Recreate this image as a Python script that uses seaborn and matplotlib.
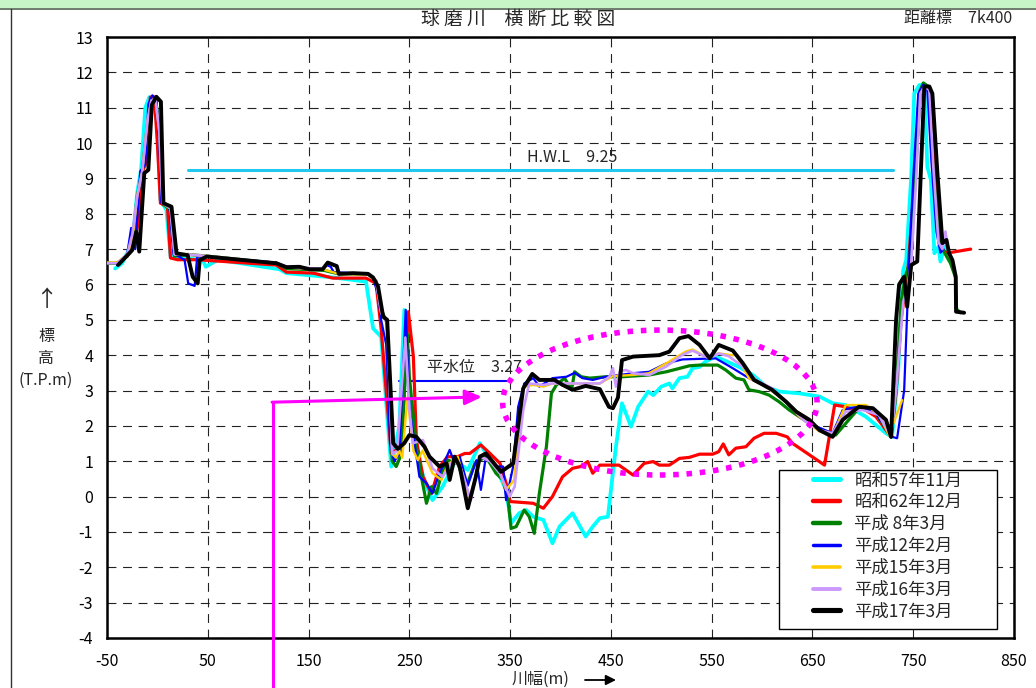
import numpy as np
import pandas as pd
import seaborn as sns
import matplotlib
matplotlib.use("Agg")
import matplotlib.pyplot as plt
from matplotlib.lines import Line2D
from matplotlib.patches import Ellipse, Rectangle
from matplotlib.ticker import MultipleLocator, FixedLocator

# ---------------- survey data: distance (m) / elevation (T.P.m) ----------------
s57_x = [-42, -35, -28, -24, -20, -16, -12, -8, -4, 0, 3, 9, 13, 20, 45, 48, 60, 121, 128, 174, 207, 214,
         222, 232, 240, 245, 250, 257, 267, 273, 283, 296, 308, 320, 330, 340, 346, 351, 359, 366, 373,
         383, 392, 399, 412, 425, 432, 439, 447, 455, 461, 470, 477, 487, 492, 500, 508, 511, 518, 526,
         531, 538, 544, 554, 577, 591, 604, 617, 637, 657, 670, 683, 703, 723, 729, 735, 740, 743, 748,
         751, 756, 761, 764, 767.5, 771, 775, 777, 781, 783]
s57_y = [6.45, 6.6, 7.0, 7.4, 8.6, 9.3, 11.0, 11.3, 11.25, 10.5, 8.4, 8.1, 6.8, 6.75, 6.7, 6.5, 6.7, 6.43,
         6.32, 6.2, 6.08, 4.76, 4.52, 0.85, 1.98, 5.28, 2.73, 1.22, 0.28, -0.10, 0.28, 1.03, 0.75, 1.51,
         1.03, 0.56, 0.19, -0.75, -0.47, -0.38, -0.57, -0.66, -1.32, -0.85, -0.47, -1.13, -0.85, -0.61,
         -0.57, 1.41, 2.64, 1.98, 2.54, 2.97, 2.87, 3.11, 3.20, 3.06, 3.35, 3.39, 3.63, 3.67, 3.82, 3.96,
         3.67, 3.44, 3.11, 2.97, 2.92, 2.83, 2.64, 2.59, 2.26, 1.79, 1.69, 3.5, 6.4, 6.69, 9.05, 11.4,
         11.64, 11.64, 9.33, 8.96, 6.88, 7.07, 6.65, 7.07, 6.9]

s62_x = [-40, -30, -25, -20, -15, -10, -7, -3, 0, 3, 10, 13, 20, 40, 118, 128, 155, 174, 207, 217, 222,
         232, 242, 249, 254, 257, 263.5, 272, 280, 288, 298, 305, 310, 321, 330, 340, 346, 350, 373, 383,
         392, 402, 412, 420, 427, 432, 439, 452, 458, 472, 483, 492, 498, 508, 518, 528, 538, 551, 557,
         561.5, 567, 574, 584, 592, 602, 614, 625, 630, 662, 672, 683, 690, 700, 713, 728, 733, 738, 745,
         752, 757, 763, 768, 773, 778, 783, 786, 807]
s62_y = [6.6, 6.8, 7.0, 7.6, 9.2, 9.5, 11.3, 11.3, 10.0, 8.3, 8.2, 6.75, 6.7, 6.7, 6.55, 6.35, 6.32, 6.18,
         6.18, 6.03, 4.76, 1.22, 1.41, 5.23, 3.96, 1.60, 0.56, 0.09, 0.85, 1.13, 1.13, 1.22, 1.22, 1.46,
         1.22, 0.94, 0.38, -0.14, -0.19, -0.33, 0.0, 0.56, 0.80, 0.85, 0.99, 0.66, 0.89, 0.89, 0.89, 0.61,
         0.94, 0.99, 0.89, 0.89, 1.08, 1.11, 1.20, 1.20, 1.27, 1.49, 1.18, 1.37, 1.41, 1.65, 1.79, 1.79,
         1.69, 1.51, 0.89, 2.59, 2.54, 2.45, 2.50, 2.26, 1.69, 3.0, 5.0, 6.5, 9.2, 11.5, 11.6, 11.3, 9.0,
         7.0, 6.9, 6.9, 7.0]

h08_x = [-50, -40, -30, -25, -20, -15, -10, -6, -2, 2, 5, 13, 17, 30, 50, 118, 128, 165, 180, 209, 217,
         222, 228, 233, 237, 242, 248, 250, 257, 262, 267, 272, 277, 282, 288, 298, 306.5, 315, 326, 336,
         343, 348, 351, 356, 364, 369, 374, 379, 386, 391, 396, 404, 411, 414, 420.5, 429, 445, 462, 472,
         488, 505, 528, 538, 556, 564, 574, 582, 587, 597, 607, 617, 627, 637, 647, 660, 673, 683, 696,
         713, 728, 733, 738, 742, 746, 752, 757, 760, 765, 770, 775, 779, 783, 787, 792, 793, 797]
h08_y = [6.6, 6.6, 6.8, 7.1, 8.5, 9.2, 10.5, 11.2, 11.25, 10.5, 8.3, 8.1, 6.8, 6.85, 6.8, 6.6, 6.45, 6.4,
         6.3, 6.3, 6.1, 5.3, 4.9, 1.0, 0.85, 1.2, 4.6, 3.39, 1.41, 0.56, -0.19, 0.28, 0.09, 0.66, 1.03,
         0.94, 0.28, 0.94, 1.13, 0.66, 0.47, -0.10, -0.90, -0.85, -0.38, -0.57, -1.04, 0.09, 1.41, 2.92,
         3.16, 3.35, 3.02, 3.53, 3.39, 3.35, 3.39, 3.39, 3.41, 3.44, 3.53, 3.70, 3.72, 3.72, 3.58, 3.35,
         3.30, 3.02, 2.97, 2.87, 2.68, 2.45, 2.26, 2.07, 1.88, 1.74, 2.07, 2.50, 2.36, 1.69, 3.0, 5.5, 6.2,
         6.6, 9.0, 11.5, 11.7, 11.6, 9.2, 7.5, 7.0, 6.8, 6.6, 6.2, 5.3, 5.2]

h12_x = [-40, -30, -26, -22, -17, -12, -9, -5, -1, 2, 4, 12, 16, 19, 27, 30.6, 37, 39.5, 50, 118, 128,
         151, 164, 168, 172, 175, 194, 209, 214, 219, 222, 227, 231, 235, 240, 246.4, 250, 260, 267, 273,
         280, 290, 295, 300, 308, 316.5, 321, 326, 336, 343, 346, 353, 358, 364, 373, 379, 392, 406, 414,
         422, 432, 445, 472, 488, 505, 521, 554, 571, 587, 604, 620, 637, 650, 670, 680, 696, 713, 728,
         734, 741, 746, 750, 755, 760, 764, 768, 773, 777, 780]
h12_y = [6.55, 6.85, 7.6, 7.0, 9.2, 9.4, 11.1, 11.35, 11.25, 10.0, 8.3, 8.2, 6.85, 6.83, 6.69, 6.03, 5.96,
         6.79, 6.78, 6.62, 6.5, 6.43, 6.43, 6.55, 6.5, 6.35, 6.32, 6.3, 6.2, 5.7, 5.0, 4.3, 1.5, 1.0, 1.2,
         5.28, 2.54, 0.56, 0.38, 0.09, 0.66, 1.32, 0.94, 1.13, 0.31, 1.03, 0.19, 1.13, 0.85, 0.85, -0.10,
         0.85, 2.54, 3.20, 3.35, 3.11, 3.35, 3.39, 3.50, 3.35, 3.30, 3.39, 3.49, 3.53, 3.77, 3.88, 3.91,
         3.63, 3.35, 3.11, 2.78, 2.26, 2.03, 1.79, 2.45, 2.56, 2.36, 1.70, 1.65, 3.0, 6.69, 9.0, 11.4,
         11.65, 11.5, 9.5, 7.5, 6.9, 7.0]

h15_x = [-50, -40, -30, -25, -20, -15, -10, -6, -2, 2, 5, 13, 17, 30, 50, 118, 128, 165, 180, 209, 217,
         222, 228, 233, 237, 240, 243, 248, 250, 254, 258.5, 263, 273, 282, 288, 298, 310, 320, 330, 340,
         346, 354, 363, 373, 383, 392, 415, 439, 452, 472, 488, 505, 524, 531, 544, 557, 570, 574, 587,
         604, 624, 637, 657, 670, 683, 703, 716, 726, 739]
h15_y = [6.62, 6.62, 6.85, 7.2, 8.5, 9.2, 10.6, 11.2, 11.25, 10.3, 8.3, 8.15, 6.85, 6.85, 6.8, 6.6, 6.48,
         6.42, 6.3, 6.28, 6.1, 5.2, 4.9, 1.2, 1.1, 1.3, 1.1, 2.8, 2.36, 1.3, 1.03, 1.3, 0.66, 0.47, 0.89,
         1.13, -0.10, 1.13, 1.03, 0.66, 0.19, 0.47, 3.11, 3.16, 3.11, 3.20, 3.20, 3.20, 3.41, 3.44, 3.49,
         3.77, 4.10, 4.16, 3.96, 4.05, 4.0, 4.01, 3.35, 3.11, 2.68, 2.26, 1.84, 1.74, 2.59, 2.59, 2.31,
         1.74, 2.73]

h16_x = [-50, -40, -30, -25, -20, -15, -10, -6, -2, 2, 5, 13, 17, 30, 50, 118, 128, 165, 169, 178, 180,
         209, 217, 222, 228, 233, 238, 246, 250, 253.6, 263.5, 273, 283, 293, 300, 311, 320, 330, 340,
         349.5, 354.5, 363, 369, 383, 392, 439, 448.5, 452, 455, 459, 465, 472, 488, 505, 521, 531, 547.5,
         557, 567, 581, 594, 610, 627, 643, 657, 670, 683, 700, 716, 728, 733, 740, 744, 748, 753, 757,
         761, 766, 770, 775, 779, 782, 785]
h16_y = [6.6, 6.6, 6.85, 7.4, 8.5, 9.2, 10.6, 11.2, 11.25, 10.3, 8.3, 8.15, 6.85, 6.85, 6.8, 6.6, 6.48,
         6.45, 6.6, 6.52, 6.32, 6.3, 6.1, 5.2, 4.9, 1.2, 1.3, 4.5, 2.5, 1.51, 1.6, 0.80, 0.56, 1.0, 0.9,
         -0.10, 1.13, 1.0, 0.66, 0.0, 0.28, 2.45, 3.2, 3.16, 3.2, 3.2, 3.39, 3.63, 3.11, 3.55, 3.58, 3.49,
         3.44, 3.68, 4.01, 4.13, 3.91, 4.05, 3.97, 3.67, 3.30, 3.06, 2.59, 2.12, 1.88, 1.79, 2.40, 2.45,
         2.31, 1.70, 3.0, 5.5, 5.9, 6.6, 9.0, 11.4, 11.6, 11.5, 9.3, 7.2, 7.0, 7.5, 6.9]

h17_x = [-39, -25, -21, -18, -13, -9, -5.5, -1, 3.5, 6, 14, 19, 30, 35, 40, 42, 49, 118, 128, 141, 151,
         164, 169, 178, 180, 194, 209, 214, 219, 224, 228, 234, 238.5, 245, 250, 257, 265, 270, 280, 287,
         290, 295, 300, 308, 316, 320, 326, 341, 353, 363, 372, 379, 394, 402, 412, 425, 439, 448, 452,
         457, 461, 472, 498, 508, 518, 527, 538, 548, 557, 571, 581, 592, 610, 624, 634, 647, 657, 670,
         680, 696, 710, 723, 728, 733, 736, 741, 744, 748, 754, 761, 766, 769, 774, 779, 783, 785.6,
         788.9, 792.2, 792.5, 800.5]
h17_y = [6.55, 6.97, 7.49, 6.93, 9.15, 9.24, 11.08, 11.31, 11.17, 8.30, 8.2, 6.88, 6.83, 6.22, 6.03, 6.69,
         6.79, 6.60, 6.49, 6.50, 6.43, 6.43, 6.62, 6.52, 6.30, 6.32, 6.30, 6.20, 5.94, 5.09, 5.0, 1.51,
         1.35, 1.51, 1.74, 1.69, 1.41, 1.13, 0.85, 0.94, 0.47, 1.13, 0.85, -0.33, 0.56, 1.13, 1.22, 0.70,
         0.94, 3.06, 3.47, 3.30, 3.30, 3.16, 3.02, 3.13, 3.04, 2.54, 2.50, 2.80, 3.86, 3.96, 4.00, 4.10,
         4.48, 4.54, 4.29, 3.91, 4.29, 4.13, 3.77, 3.30, 3.02, 2.68, 2.40, 2.17, 1.88, 1.69, 2.17, 2.54,
         2.50, 2.17, 1.69, 5.0, 6.0, 6.22, 5.37, 6.55, 6.65, 11.6, 11.6, 11.4, 9.15, 7.17, 7.26, 6.88,
         6.69, 6.22, 5.23, 5.20]

series_names = ["昭和57年11月", "昭和62年12月", "平成 8年3月", "平成12年2月",
                "平成15年3月", "平成16年3月", "平成17年3月"]
series_x = [s57_x, s62_x, h08_x, h12_x, h15_x, h16_x, h17_x]
series_y = [s57_y, s62_y, h08_y, h12_y, h15_y, h16_y, h17_y]
series_colors = ["#00FFFF", "#FF0000", "#008000", "#0000FF", "#FFCC00", "#CC99FF", "#000000"]
series_widths = [2.7, 2.3, 2.3, 1.6, 1.7, 1.9, 2.8]

hwl_level = 9.25
hwl_span = [30, 730]
normal_level = 3.27
normal_span = [240, 349]

x_ticks = list(range(-50, 851, 100))
y_ticks = list(range(-4, 14))

# ---------------- long-form table ----------------
frames = []
for name, xs, ys in zip(series_names, series_x, series_y):
    frames.append(pd.DataFrame({"dist": xs, "elev": ys, "survey": name}))
df = pd.concat(frames, ignore_index=True)

# ---------------- style ----------------
sns.set_style("white")
plt.rcParams["font.family"] = ["Noto Sans CJK JP", "DejaVu Sans"]
plt.rcParams["axes.unicode_minus"] = False

W, H = 1036, 688
fig = plt.figure(figsize=(W / 100, H / 100), dpi=100)
fig.patch.set_facecolor("white")
ax = fig.add_axes([107 / W, (H - 638) / H, (1014 - 107) / W, (638 - 37) / H])

palette = dict(zip(series_names, series_colors))
sizes = dict(zip(series_names, series_widths))
sns.lineplot(data=df, x="dist", y="elev", hue="survey", size="survey",
             hue_order=series_names, size_order=series_names,
             palette=palette, sizes=sizes, sort=False, estimator=None,
             units="survey", legend=False, ax=ax, zorder=3)

ax.set_xlim(-50, 850)
ax.set_ylim(-4, 13)
ax.xaxis.set_major_locator(FixedLocator(x_ticks))
ax.xaxis.set_minor_locator(FixedLocator(list(range(-50, 851, 20))))
ax.yaxis.set_major_locator(FixedLocator(y_ticks))
ax.yaxis.set_minor_locator(MultipleLocator(0.2))
ax.tick_params(axis="both", which="major", direction="in", length=5, width=1,
               labelsize=11.5, colors="black")
ax.tick_params(axis="both", which="minor", direction="in", length=3, width=0.8)
ax.tick_params(axis="x", pad=11)
ax.tick_params(axis="y", pad=10)
ax.set_xlabel("")
ax.set_ylabel("")
ax.grid(True, which="major", color="#222222", linestyle=(0, (8, 6)), linewidth=0.8)
for sp in ax.spines.values():
    sp.set_linewidth(1.8)
    sp.set_color("black")

# water levels
ax.plot(hwl_span, [hwl_level, hwl_level], color="#22C8F0", lw=2.2, zorder=2)
ax.text(412, 9.6, f"H.W.L　{hwl_level:.2f}", fontsize=11.5, ha="center", va="center")
ax.plot(normal_span, [normal_level, normal_level], color="#0000FF", lw=1.5, zorder=2)
ax.text(268, 3.64, f"平水位　{normal_level:.2f}", fontsize=11.5, ha="left", va="center")

# highlighted area
ell = Ellipse((498.6, 2.66), 312, 4.10, fill=False, edgecolor="#FF00FF", lw=4,
              linestyle=(0, (1, 1.4)), zorder=5)
ax.add_patch(ell)

# pointer from below the chart
ax.plot([114.5, 114.5], [-5.6, 2.67], color="#FF00FF", lw=2.2, clip_on=False, zorder=6)
ax.annotate("", xy=(322, 2.82), xytext=(113.8, 2.67),
            arrowprops=dict(arrowstyle="-|>,head_length=1.0,head_width=0.45",
                            color="#FF00FF", lw=2.2, shrinkA=0, shrinkB=0),
            annotation_clip=False, zorder=6)

# legend: entries placed inside a separately drawn box
handles = [Line2D([0], [0], color=c, lw=w + 0.9) for c, w in zip(series_colors, series_widths)]
leg = ax.legend(handles, series_names, loc="upper left", bbox_to_anchor=(0.778, 0.277),
                fontsize=12.5, frameon=False, handlelength=1.55, handletextpad=0.85,
                labelspacing=0.22, borderpad=0, borderaxespad=0)
leg.set_zorder(11)
ax.add_patch(Rectangle((0.741, 0.015), 0.240, 0.2645, transform=ax.transAxes,
                       facecolor="white", edgecolor="black", lw=1.0, zorder=10))

# titles
fig.text(518 / W, 1 - 19 / H, "球 磨 川　横 断 比 較 図", fontsize=13.5, ha="center", va="center")
fig.text(1012 / W, 1 - 19 / H, "距離標　7k400", fontsize=11.5, ha="right", va="center")

# axis captions
fig.text(46 / W, 1 - 300 / H, "↑", fontsize=16, ha="center", va="center")
fig.text(46 / W, 1 - 337 / H, "標", fontsize=11.5, ha="center", va="center")
fig.text(46 / W, 1 - 358 / H, "高", fontsize=11.5, ha="center", va="center")
fig.text(46 / W, 1 - 380 / H, "(T.P.m)", fontsize=11.5, ha="center", va="center")
fig.text(541 / W, 1 - 679 / H, "川幅(m)", fontsize=11.5, ha="center", va="center")
ax.annotate("", xy=(616, H - 680), xytext=(585, H - 680),
            xycoords="figure pixels", textcoords="figure pixels",
            arrowprops=dict(arrowstyle="-|>,head_length=0.6,head_width=0.3",
                            color="black", lw=1.3, shrinkA=0, shrinkB=0),
            annotation_clip=False)

# page frame
fig.add_artist(Rectangle((0, 1 - 8 / H), 1, 8 / H, transform=fig.transFigure,
                         facecolor="#C8F5C8", edgecolor="none"))
fig.add_artist(Line2D([0, 1], [1 - 9 / H, 1 - 9 / H], transform=fig.transFigure,
                      color="#556655", lw=1.2))
fig.add_artist(Line2D([11 / W, 11 / W], [0, 1 - 9 / H], transform=fig.transFigure,
                      color="#333333", lw=1.0))

fig.savefig("out.png", dpi=100)
